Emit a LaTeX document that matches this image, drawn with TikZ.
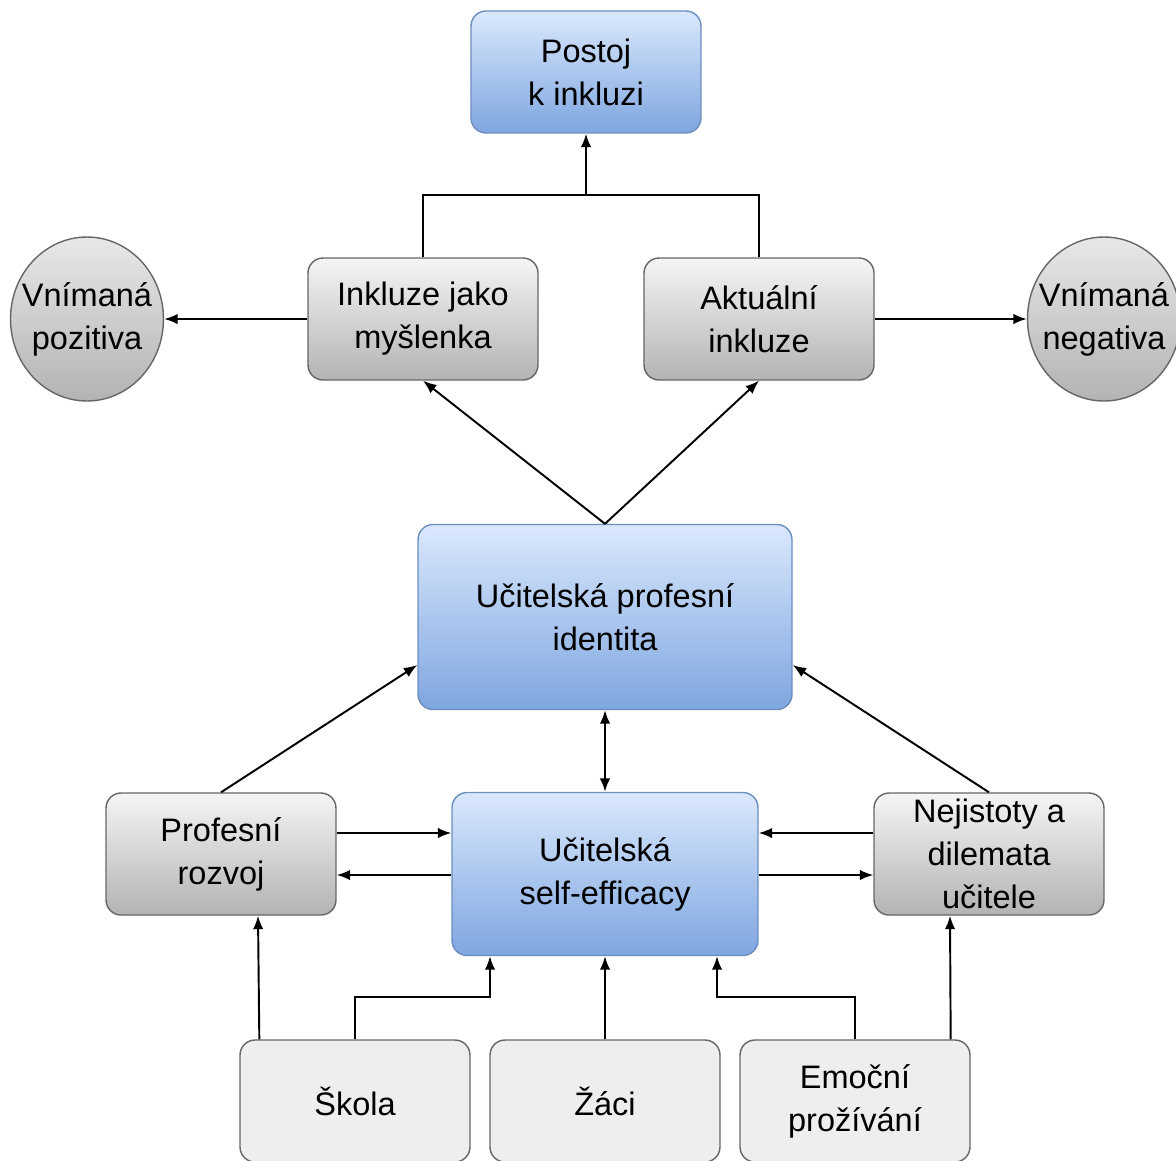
\documentclass[tikz,border=0pt]{standalone}
\usepackage{fontspec}
\setmainfont{Liberation Sans}
\usepackage{tikz}
\usetikzlibrary{calc,shapes.geometric,arrows.meta}
\definecolor{bluetop}{HTML}{DAE8FC}
\definecolor{bluebot}{HTML}{7EA6E0}
\definecolor{blueline}{HTML}{6C8EBF}
\definecolor{graytop}{HTML}{F5F5F5}
\definecolor{graybot}{HTML}{B3B3B3}
\definecolor{grayline}{HTML}{666666}
\definecolor{lightbox}{HTML}{EEEEEE}
\begin{document}
\begin{tikzpicture}[x=0.02cm,y=-0.02cm]
\tikzset{box/.style = {shape=rectangle,rounded corners=0.3cm,draw=grayline,line width=0.8pt,
  top color=graytop,bottom color=graybot,minimum width=4.6cm,minimum height=2.44cm,
  align=center,font=\fontsize{18.5}{24.5}\selectfont}}
\tikzset{bluebox/.style = {box,draw=blueline,top color=bluetop,bottom color=bluebot}}
\tikzset{plainbox/.style = {box,top color=lightbox,bottom color=lightbox}}
\tikzset{oval/.style = {shape=ellipse,draw=grayline,line width=0.8pt,top color=graytop!80!graybot,
  bottom color=graybot,minimum width=3.06cm,minimum height=3.28cm,inner xsep=-0.25cm,inner ysep=0pt,
  align=center,font=\fontsize{18.5}{24.5}\selectfont}}
\tikzset{edge/.style = {->,> = {Latex[length=0.27cm,width=0.21cm]},line width=1.1pt}}
\useasboundingbox (0,0) rectangle (1176,1160);
\node[bluebox] (postoj) at (586,72) {Postoj\\k inkluzi};
\node[box] (myslenka) at (423,319) {Inkluze jako\\myšlenka};
\node[box] (aktualni) at (759,319) {Aktuální\\inkluze};
\node[oval] (pozitiva) at (87,319) {Vnímaná\\pozitiva};
\node[oval] (negativa) at (1104,319) {Vnímaná\\negativa};
\node[bluebox,minimum width=7.48cm,minimum height=3.7cm] (identita) at (605,617) {Učitelská profesní\\identita};
\node[bluebox,minimum width=6.12cm,minimum height=3.26cm] (efficacy) at (605,874) {Učitelská\\self-efficacy};
\node[box] (rozvoj) at (221,854) {Profesní\\rozvoj};
\node[box] (nejistoty) at (989,854) {Nejistoty a\\dilemata\\učitele};
\node[plainbox] (skola) at (355,1101) {Škola};
\node[plainbox] (zaci) at (605,1101) {Žáci};
\node[plainbox] (emocni) at (855,1101) {Emoční\\prožívání};
%top part
\coordinate (spoj) at ($(myslenka.north)+(0,-62)$);
\draw[line width=1.1pt] (myslenka.north) -- (spoj) -| (aktualni.north);
\draw[edge] (postoj.south |- spoj) to (postoj.south);
\draw[edge] (myslenka.west) to (pozitiva.east);
\draw[edge] (aktualni.east) to (negativa.west);
\draw[edge] (identita.north) to (myslenka.south);
\draw[edge] (identita.north) to (aktualni.south);
%middle part
\draw[edge] (rozvoj.north) to ($(identita.west)+(0,48)$);
\draw[edge] (nejistoty.north) to ($(identita.east)+(0,48)$);
\draw[edge,<->] (efficacy.north) to (identita.south);
\draw[edge] ($(rozvoj.east)+(0,-21)$) to ($(efficacy.west)+(0,-41)$);
\draw[edge] ($(efficacy.west)+(0,1)$) to ($(rozvoj.east)+(0,21)$);
\draw[edge] ($(nejistoty.west)+(0,-21)$) to ($(efficacy.east)+(0,-41)$);
\draw[edge] ($(efficacy.east)+(0,1)$) to ($(nejistoty.west)+(0,21)$);
%bottom part
\draw[edge] ($(skola.north west)+(20,0)$) to ($(rozvoj.south)+(37,0)$);
\draw[edge] (skola.north) -- ++(0,-42) -| ($(efficacy.south)+(-115,0)$);
\draw[edge] (zaci.north) to (efficacy.south);
\draw[edge] (emocni.north) -- ++(0,-42) -| ($(efficacy.south)+(112,0)$);
\draw[edge] ($(emocni.north east)+(-20,0)$) to ($(nejistoty.south)+(-39,0)$);
\end{tikzpicture}
\end{document}
